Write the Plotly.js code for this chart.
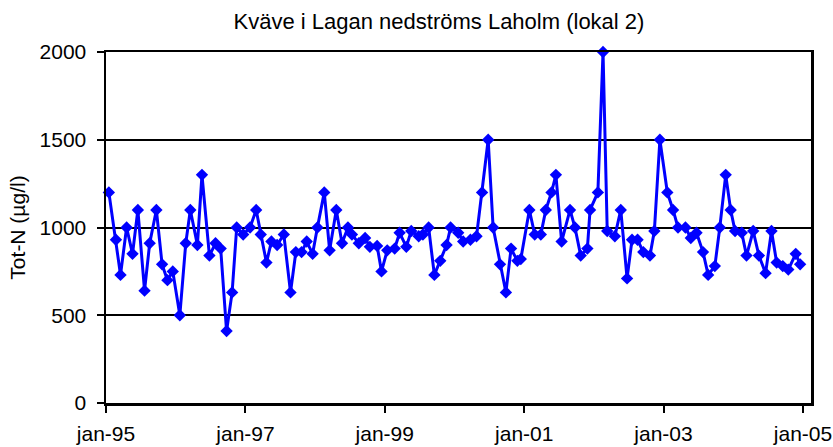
<!DOCTYPE html>
<html>
<head>
<meta charset="utf-8">
<script src="https://cdn.plot.ly/plotly-3.0.1.min.js"></script>
<style>html,body{margin:0;padding:0;background:#fff;}#chart{width:833px;height:447px;}</style>
</head>
<body>
<div id="chart"></div>
<script>
const chartTitle = 'Kväve i Lagan nedströms Laholm (lokal 2)';
const yTitle = 'Tot-N (µg/l)';

const sampleDates = [
'1995-01-16','1995-02-22','1995-03-18','1995-04-19','1995-05-20','1995-06-17','1995-07-22','1995-08-18','1995-09-22','1995-10-22','1995-11-19','1995-12-17',
'1996-01-23','1996-02-23','1996-03-18','1996-04-24','1996-05-18','1996-06-26','1996-07-28','1996-08-24','1996-09-24','1996-10-23','1996-11-16','1996-12-20',
'1997-01-25','1997-02-26','1997-03-22','1997-04-21','1997-05-17','1997-06-16','1997-07-21','1997-08-25','1997-09-22','1997-10-22','1997-11-18','1997-12-19',
'1998-01-13','1998-02-18','1998-03-18','1998-04-22','1998-05-22','1998-06-22','1998-07-13','1998-08-18','1998-09-20','1998-10-15','1998-11-22','1998-12-15',
'1999-01-14','1999-02-22','1999-03-20','1999-04-24','1999-05-20','1999-06-28','1999-07-20','1999-08-19','1999-09-18','1999-10-19','1999-11-21','1999-12-12',
'2000-01-21','2000-02-16','2000-03-25','2000-04-26','2000-05-25','2000-06-26','2000-07-22','2000-08-27','2000-09-27','2000-10-24','2000-11-26','2000-12-14',
'2001-01-28','2001-02-25','2001-03-29','2001-04-24','2001-05-24','2001-06-16','2001-07-16','2001-08-29','2001-09-24','2001-10-24','2001-11-28','2001-12-12',
'2002-01-22','2002-02-18','2002-03-12','2002-04-21','2002-05-22','2002-06-24','2002-07-20','2002-08-18','2002-09-17','2002-10-22','2002-11-14','2002-12-13',
'2003-01-21','2003-02-20','2003-03-18','2003-04-26','2003-05-24','2003-06-23','2003-07-27','2003-08-23','2003-09-27','2003-10-23','2003-11-23','2003-12-19',
'2004-01-11','2004-02-15','2004-03-11','2004-04-15','2004-05-15','2004-06-19','2004-07-20','2004-08-16','2004-09-17','2004-10-16','2004-11-24','2004-12-17'
];

const totN = [
1200, 930, 730, 1000, 850, 1100, 640, 910, 1100, 790, 700, 750,
500, 910, 1100, 900, 1300, 840, 910, 880, 410, 630, 1000, 960,
1000, 1100, 960, 800, 920, 900, 960, 630, 860, 860, 920, 850,
1000, 1200, 870, 1100, 910, 1000, 960, 910, 940, 890, 895, 750,
870, 880, 970, 890, 980, 950, 960, 1000, 730, 810, 900, 1000,
970, 920, 930, 950, 1200, 1500, 1000, 790, 630, 880, 810, 820,
1100, 960, 960, 1100, 1200, 1300, 920, 1100, 1000, 840, 880, 1100,
1200, 2000, 980, 950, 1100, 710, 930, 930, 860, 840, 980, 1500,
1200, 1100, 1000, 1000, 940, 970, 860, 730, 780, 1000, 1300, 1100,
980, 970, 840, 980, 840, 740, 980, 800, 780, 760, 850, 790
];

const xTickVals = ['1995-01-01','1997-01-01','1999-01-01','2001-01-01','2003-01-01','2005-01-01'];
const xTickText = ['jan-95','jan-97','jan-99','jan-01','jan-03','jan-05'];
const yTickVals = [0, 500, 1000, 1500, 2000];

const font = 'Liberation Sans, Arial, sans-serif';

const trace = {
  x: sampleDates,
  y: totN,
  type: 'scatter',
  mode: 'lines+markers',
  line: {color: '#0000FF', width: 3},
  marker: {symbol: 'diamond', size: 9.5, color: '#0000FF'},
  cliponaxis: false,
  hoverinfo: 'x+y'
};

const layout = {
  width: 833,
  height: 447,
  margin: {l: 106, r: 22, t: 52, b: 44, pad: 0},
  paper_bgcolor: '#ffffff',
  plot_bgcolor: '#ffffff',
  showlegend: false,
  font: {family: font, size: 21, color: '#000'},
  title: {
    text: chartTitle,
    font: {family: font, size: 22, color: '#000'},
    xref: 'container', x: 0.527, xanchor: 'center',
    yref: 'container', y: 0.952, yanchor: 'middle'
  },
  xaxis: {
    type: 'date',
    range: ['1995-01-01', '2005-02-12'],
    tickmode: 'array',
    tickvals: xTickVals,
    ticktext: xTickText,
    ticks: 'outside',
    ticklen: 7,
    tickwidth: 2,
    tickcolor: '#000',
    showline: true,
    linecolor: '#000',
    linewidth: 2.5,
    mirror: true,
    showgrid: false,
    zeroline: false,
    tickfont: {family: font, size: 21, color: '#000'},
    ticklabelstandoff: 3
  },
  yaxis: {
    range: [0, 2000],
    tickmode: 'array',
    tickvals: yTickVals,
    ticks: 'outside',
    ticklen: 7,
    tickwidth: 2,
    tickcolor: '#000',
    showline: true,
    linecolor: '#000',
    linewidth: 2.5,
    mirror: true,
    showgrid: true,
    gridcolor: '#000',
    gridwidth: 2,
    zeroline: false,
    tickfont: {family: font, size: 21, color: '#000'},
    ticklabelstandoff: 6,
    title: {text: yTitle, font: {family: font, size: 21, color: '#000'}, standoff: 8}
  }
};

Plotly.newPlot('chart', [trace], layout, {displayModeBar: false, staticPlot: true});
</script>
</body>
</html>
